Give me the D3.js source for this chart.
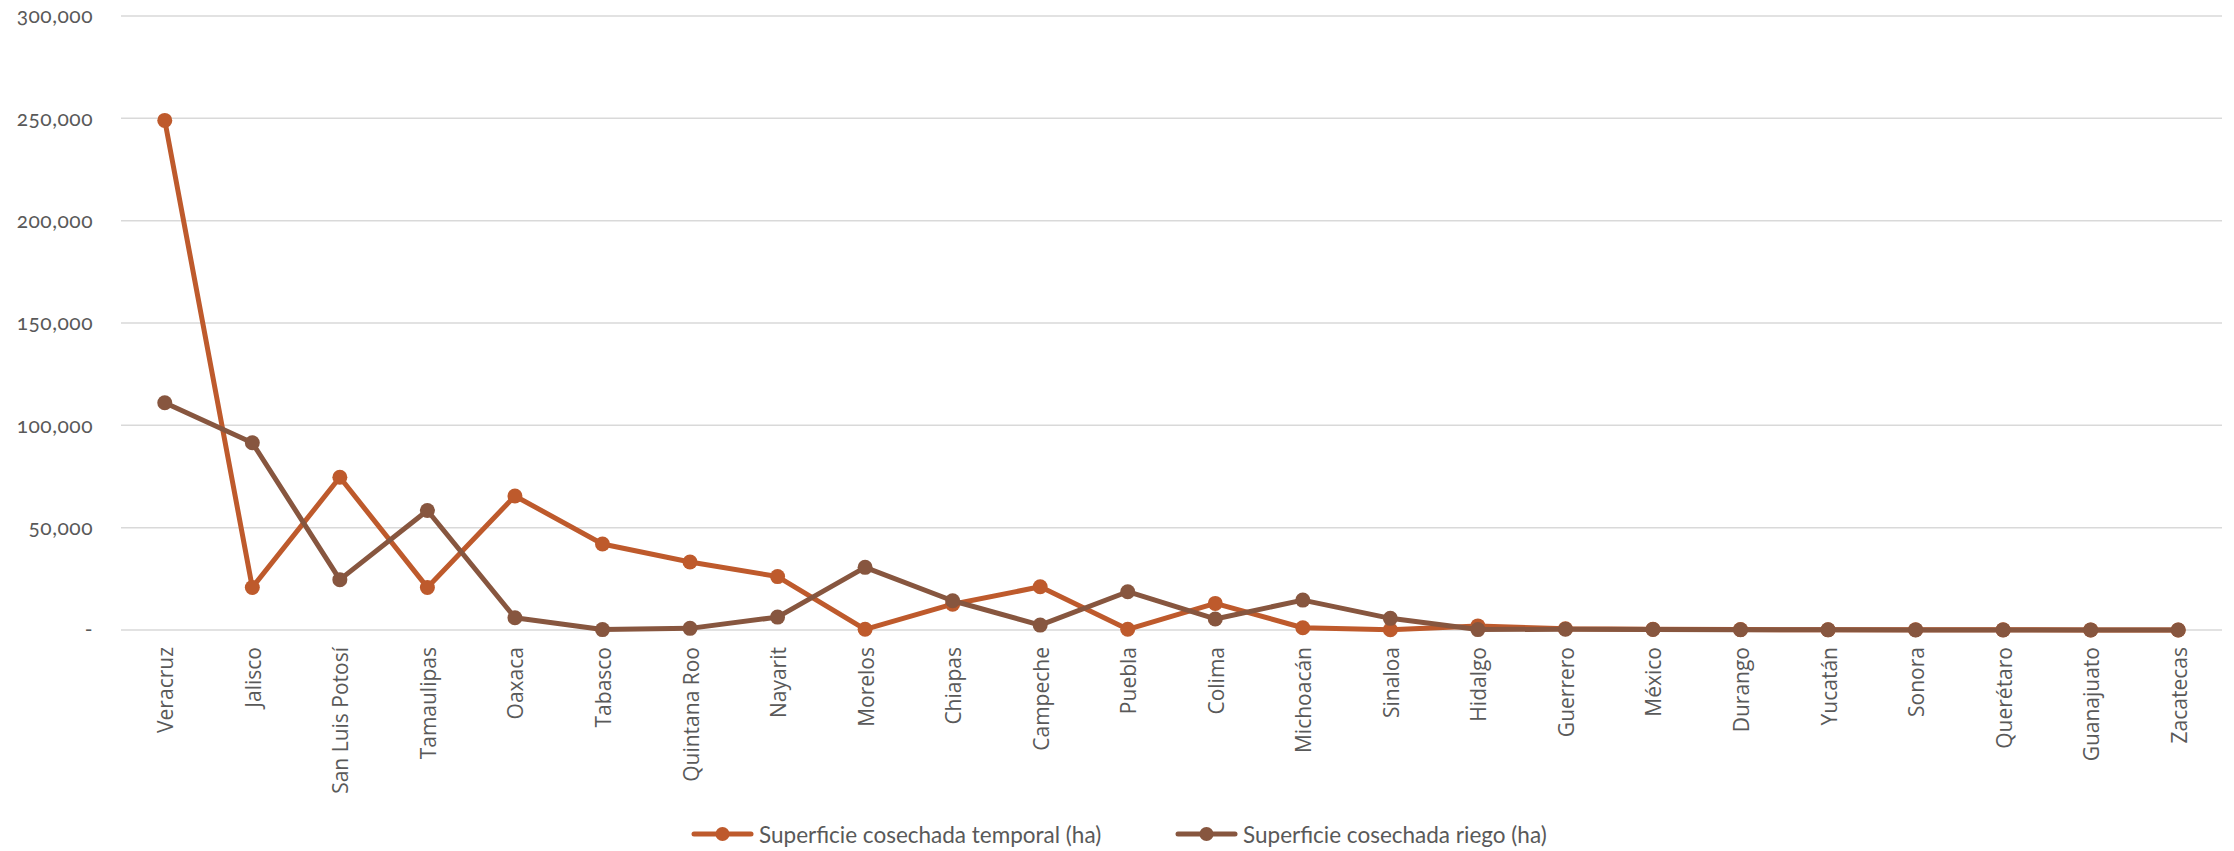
<!DOCTYPE html>
<html>
<head>
<meta charset="utf-8">
<script src="https://cdn.jsdelivr.net/npm/d3@7"></script>
<style>
  html, body { margin: 0; padding: 0; background: #ffffff; }
  svg { display: block; }
</style>
</head>
<body>
<svg id="chart" width="2234" height="851"></svg>
<script>
const categories = ["Veracruz","Jalisco","San Luis Potosí","Tamaulipas","Oaxaca","Tabasco","Quintana Roo","Nayarit","Morelos","Chiapas","Campeche","Puebla","Colima","Michoacán","Sinaloa","Hidalgo","Guerrero","México","Durango","Yucatán","Sonora","Querétaro","Guanajuato","Zacatecas"];
const temporal = [249000, 20800, 74600, 20800, 65500, 42000, 33200, 26100, 350, 12600, 21100, 350, 13000, 1100, 100, 2000, 600, 400, 200, 150, 100, 80, 50, 30];
const riego = [111000, 91500, 24600, 58400, 6000, 200, 800, 6300, 30600, 14300, 2400, 18700, 5400, 14600, 5700, 200, 400, 300, 100, 80, 60, 50, 30, 20];
const yTicks = [0, 50000, 100000, 150000, 200000, 250000, 300000];
const yTickLabels = ["-", "50,000", "100,000", "150,000", "200,000", "250,000", "300,000"];
const seriesNames = ["Superficie cosechada temporal (ha)", "Superficie cosechada riego (ha)"];

const colors = ["#BE5A2C", "#87563F"];
const svg = d3.select("#chart");
const m = { left: 121, right: 2222, top: 16, bottom: 630 };

const x = d3.scalePoint().domain(categories).range([m.left, m.right]).padding(0.5);
const y = d3.scaleLinear().domain([0, 300000]).range([m.bottom, m.top]);

// gridlines
svg.append("g").selectAll("line").data(yTicks).join("line")
  .attr("x1", m.left).attr("x2", m.right)
  .attr("y1", d => y(d)).attr("y2", d => y(d))
  .attr("stroke", "#d9d9d9").attr("stroke-width", 1.5);

// y axis labels
const yAxis = d3.axisLeft(y).tickValues(yTicks).tickSize(0).tickPadding(0)
  .tickFormat((d, i) => yTickLabels[i]);
const yg = svg.append("g").attr("transform", "translate(93,0)").call(yAxis);
yg.select(".domain").remove();
yg.selectAll("text")
  .attr("fill", "#595959")
  .style("font-family", "Lato, 'Open Sans', sans-serif")
  .style("font-size", "21px")
  .style("font-feature-settings", "'onum' 1")
  .style("letter-spacing", "0.5px");

// x axis labels
const xAxis = d3.axisBottom(x).tickSize(0).tickPadding(0);
const xg = svg.append("g").attr("transform", `translate(0,${m.bottom})`).call(xAxis);
xg.select(".domain").remove();
xg.selectAll("text")
  .attr("fill", "#595959")
  .style("font-family", "'Open Sans', sans-serif")
  .style("font-size", "21px")
  .attr("text-anchor", "end")
  .attr("dy", null)
  .attr("dominant-baseline", "central")
  .attr("transform", "translate(0,17) rotate(-90)")
  .attr("x", 0).attr("y", 0);

// lines
const series = [temporal, riego];
const line = d3.line().x((d, i) => x(categories[i])).y(d => y(d));
series.forEach((s, k) => {
  const g = svg.append("g");
  g.append("path").datum(s)
    .attr("d", line)
    .attr("fill", "none")
    .attr("stroke", colors[k])
    .attr("stroke-width", 5)
    .attr("stroke-linejoin", "round")
    .attr("stroke-linecap", "round");
  g.selectAll("circle").data(s).join("circle")
    .attr("cx", (d, i) => x(categories[i]))
    .attr("cy", d => y(d))
    .attr("r", 7.5)
    .attr("fill", colors[k]);
});

// legend
const legendY = 834;
const legendX = [694, 1178];
seriesNames.forEach((name, k) => {
  const g = svg.append("g").attr("transform", `translate(${legendX[k]},${legendY})`);
  g.append("line").attr("x1", 0).attr("x2", 57).attr("y1", 0).attr("y2", 0)
    .attr("stroke", colors[k]).attr("stroke-width", 5).attr("stroke-linecap", "round");
  g.append("circle").attr("cx", 28.5).attr("cy", 0).attr("r", 7).attr("fill", colors[k]);
  g.append("text").attr("x", 65).attr("y", 0)
    .attr("dominant-baseline", "central")
    .attr("fill", "#595959")
    .style("font-family", "Lato, sans-serif")
    .style("font-size", "22.5px")
    .text(name);
});
</script>
</body>
</html>
